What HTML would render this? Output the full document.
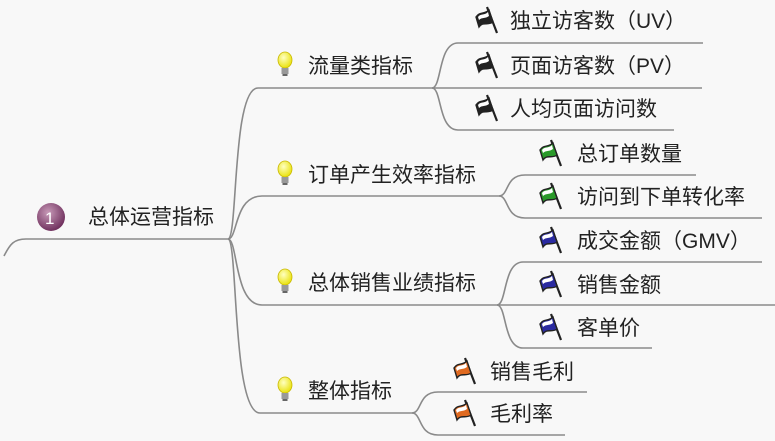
<!DOCTYPE html>
<html><head><meta charset="utf-8"><style>
html,body{margin:0;padding:0;background:#f8f8f8;}
svg{display:block}
text{font-family:"Liberation Sans","Noto Sans CJK SC",sans-serif;font-size:21px;fill:#222;}
</style></head><body>
<svg width="775" height="441" viewBox="0 0 775 441" xmlns="http://www.w3.org/2000/svg">
<defs>
<radialGradient id="bg" cx="0.4" cy="0.35" r="0.7"><stop offset="0" stop-color="#c89ab8"/><stop offset="1" stop-color="#6a2a58"/></radialGradient>
<radialGradient id="yb" cx="0.4" cy="0.35" r="0.7"><stop offset="0" stop-color="#ffffc0"/><stop offset="1" stop-color="#e8e000"/></radialGradient>
<g id="bulb"><ellipse cx="0" cy="-5" rx="7" ry="8" fill="url(#yb)" stroke="#c8b800" stroke-width="0.8"/><rect x="-3.5" y="3" width="7" height="6" fill="#999"/><rect x="-2.5" y="9" width="5" height="2" fill="#666"/></g>
<g id="flag"><line x1="11" y1="-13" x2="21" y2="13" stroke="#222" stroke-width="2.2"/><path d="M0,-3 C4,-9 8,-5 13,-10 L17,2 C12,6 7,1 3,7 Z" fill="currentColor" stroke="#222" stroke-width="1.4"/><path d="M2,-3 C5,-7 8,-4 12,-8 L13,-4 C9,-1 6,-3 3,0 Z" fill="#fff"/></g>
</defs>
<g fill="none" stroke="#8a8a8a" stroke-width="1.6">
<path d="M4,256 C10,244 14,239 26,239 L228,239"/>
<path d="M228,239 C238,239 232,88 258,88 L432,88"/>
<path d="M228,239 C238,239 234,196 262,196 L499,196"/>
<path d="M228,239 C238,239 234,305 262,305 L497,305"/>
<path d="M228,239 C238,239 232,413 260,413 L412,413"/>
<path d="M432,88 C442,88 438,43 458,43 L703,43"/>
<path d="M432,88 L702,88"/>
<path d="M432,88 C442,88 438,130 458,130 L674,130"/>
<path d="M499,196 C509,196 505,175 525,175 L696,175"/>
<path d="M499,196 C509,196 505,218 525,218 L762,218"/>
<path d="M497,305 C507,305 503,262 523,262 L762,262"/>
<path d="M497,305 L775,305"/>
<path d="M497,305 C507,305 503,348 523,348 L652,348"/>
<path d="M412,413 C422,413 418,392 438,392 L587,392"/>
<path d="M412,413 C422,413 418,435 438,435 L565,435"/>
</g>
<circle cx="51" cy="217" r="14" fill="url(#bg)"/>
<text x="45" y="224" style="font-size:17px;fill:#fff">1</text>
<text x="88" y="224">总体运营指标</text>
<use href="#bulb" x="285" y="65"/><text x="308" y="73">流量类指标</text>
<use href="#bulb" x="285" y="174"/><text x="308" y="182">订单产生效率指标</text>
<use href="#bulb" x="285" y="282"/><text x="308" y="290">总体销售业绩指标</text>
<use href="#bulb" x="285" y="390"/><text x="308" y="398">整体指标</text>
<use href="#flag" x="476" y="20" color="#222"/><text x="510" y="28">独立访客数（UV）</text>
<use href="#flag" x="476" y="65" color="#222"/><text x="510" y="73">页面访客数（PV）</text>
<use href="#flag" x="476" y="108" color="#222"/><text x="510" y="116">人均页面访问数</text>
<use href="#flag" x="540" y="153" color="#2a9a2a"/><text x="577" y="161">总订单数量</text>
<use href="#flag" x="540" y="196" color="#2a9a2a"/><text x="577" y="204">访问到下单转化率</text>
<use href="#flag" x="540" y="240" color="#2a2aa0"/><text x="577" y="248">成交金额（GMV）</text>
<use href="#flag" x="540" y="284" color="#2a2aa0"/><text x="577" y="292">销售金额</text>
<use href="#flag" x="540" y="327" color="#2a2aa0"/><text x="577" y="335">客单价</text>
<use href="#flag" x="454" y="371" color="#e06a20"/><text x="490" y="379">销售毛利</text>
<use href="#flag" x="454" y="413" color="#e06a20"/><text x="490" y="421">毛利率</text>
</svg>
</body></html>
